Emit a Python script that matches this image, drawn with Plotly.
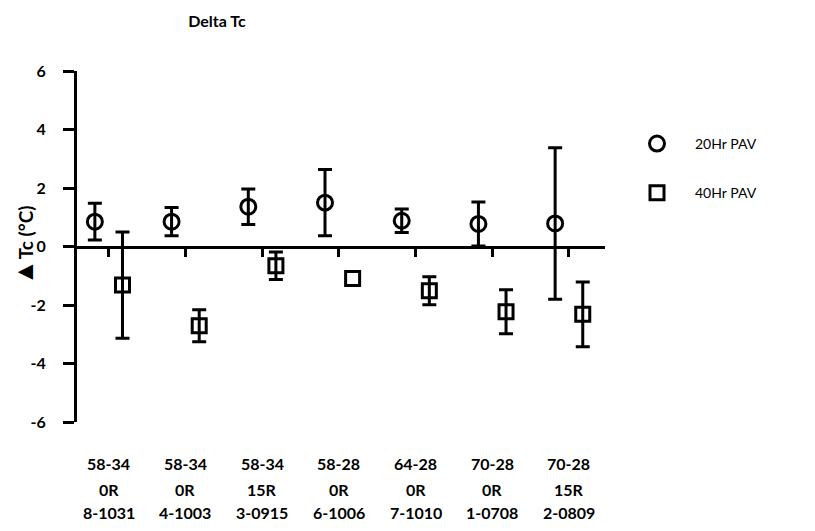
import numpy as np
import plotly.graph_objects as go

# ---- data ----
grade = ["58-34", "58-34", "58-34", "58-28", "64-28", "70-28", "70-28"]
rap = ["0R", "0R", "15R", "0R", "0R", "0R", "15R"]
sample_id = ["8-1031", "4-1003", "3-0915", "6-1006", "7-1010", "1-0708", "2-0809"]
categories = [f"{g} {r} {s}" for g, r, s in zip(grade, rap, sample_id)]

pav20_mean = [0.85, 0.85, 1.36, 1.50, 0.88, 0.77, 0.79]
pav20_err = [0.63, 0.48, 0.61, 1.13, 0.40, 0.75, 2.59]
pav40_mean = [-1.32, -2.71, -0.66, -1.09, -1.51, -2.23, -2.32]
pav40_err = [1.82, 0.55, 0.47, float("nan"), 0.48, 0.75, 1.11]  # no bar drawn for 58-28

y_range = [-6, 6]
y_ticks = [-6, -4, -2, 0, 2, 4, 6]
y_ticktext = ["-6", "-4", "-2", "0", "2", "4", "6"]
x_range = [-0.413, 6.47]

FONT = "Lato"
tick_font = dict(family=FONT, size=16, color="black", weight="bold")

# page body has an 8px margin; size figure so the plot lands where the reference's is
PAGE = 8
W, H = 815 - PAGE, 531 - PAGE
L, T = 77 - PAGE, 71 - PAGE
PW, PH = 528, 351

fig = go.Figure()
fig.add_trace(go.Scatter(
    x=categories, y=pav20_mean, name="20Hr PAV", mode="markers",
    legendgroup="a",
    marker=dict(symbol="circle-open", size=15, color="black", line=dict(width=3, color="black")),
    error_y=dict(type="data", array=np.array(pav20_err, dtype=float), visible=True,
                 color="black", thickness=3, width=7),
    offsetgroup="a",
))
fig.add_trace(go.Scatter(
    x=categories, y=pav40_mean, name="40Hr PAV", mode="markers",
    legendgroup="b",
    marker=dict(symbol="square-open", size=14, color="black", line=dict(width=3, color="black")),
    error_y=dict(type="data", array=np.array(pav40_err, dtype=float), visible=True,
                 color="black", thickness=3, width=7),
    offsetgroup="b",
))

zero_pos = (0 - y_range[0]) / (y_range[1] - y_range[0])

# category labels: three rows under the plot, placed on the category axis
annotations = []
for rows, shift in ((grade, -30), (rap, -56), (sample_id, -79)):
    for cat, txt in zip(categories, rows):
        annotations.append(dict(
            text=txt, x=cat, xref="x", y=0, yref="paper", yanchor="top", xanchor="center",
            yshift=shift, showarrow=False, font=tick_font,
        ))
annotations.append(dict(
    text="<span style='font-size:26px'>▲</span>Tc (°C)", textangle=-90, xref="paper", yref="paper",
    x=(23 - 77) / PW, y=(422 - 245) / PH, xanchor="center", yanchor="middle",
    showarrow=False, font=dict(family=FONT, size=19, color="black", weight="bold"),
))

fig.update_layout(
    width=W, height=H,
    margin=dict(l=L, r=W - L - PW, t=T, b=H - T - PH, autoexpand=False),
    paper_bgcolor="white", plot_bgcolor="white",
    scattermode="group", scattergap=0.28,
    title=dict(text="Delta Tc", x=(217 - PAGE) / W, xref="container", xanchor="center",
               y=1 - (21 - PAGE) / H, yref="container", yanchor="middle",
               font=dict(family=FONT, size=16, color="black", weight="bold")),
    xaxis=dict(
        type="category", categoryorder="array", categoryarray=categories,
        range=x_range, anchor="free", position=zero_pos, automargin=False,
        showline=True, linewidth=3, linecolor="black",
        ticks="outside", ticklen=8, tickwidth=3, tickcolor="black",
        showticklabels=False, showgrid=False, zeroline=False,
    ),
    yaxis=dict(
        range=y_range, tickvals=y_ticks, ticktext=y_ticktext, automargin=False,
        showline=True, linewidth=3, linecolor="black",
        ticks="outside", ticklen=11, tickwidth=3, tickcolor="black",
        tickfont=tick_font, ticklabelstandoff=14,
        showgrid=False, zeroline=False,
    ),
    legend=dict(
        x=(619 - 77) / PW, xanchor="left",
        y=(422 - 128) / PH, yanchor="top",
        font=dict(family=FONT, size=14, color="black"),
        tracegroupgap=28, itemwidth=66,
        bgcolor="rgba(0,0,0,0)",
    ),
    annotations=annotations,
)

fig.write_html("out.html")
